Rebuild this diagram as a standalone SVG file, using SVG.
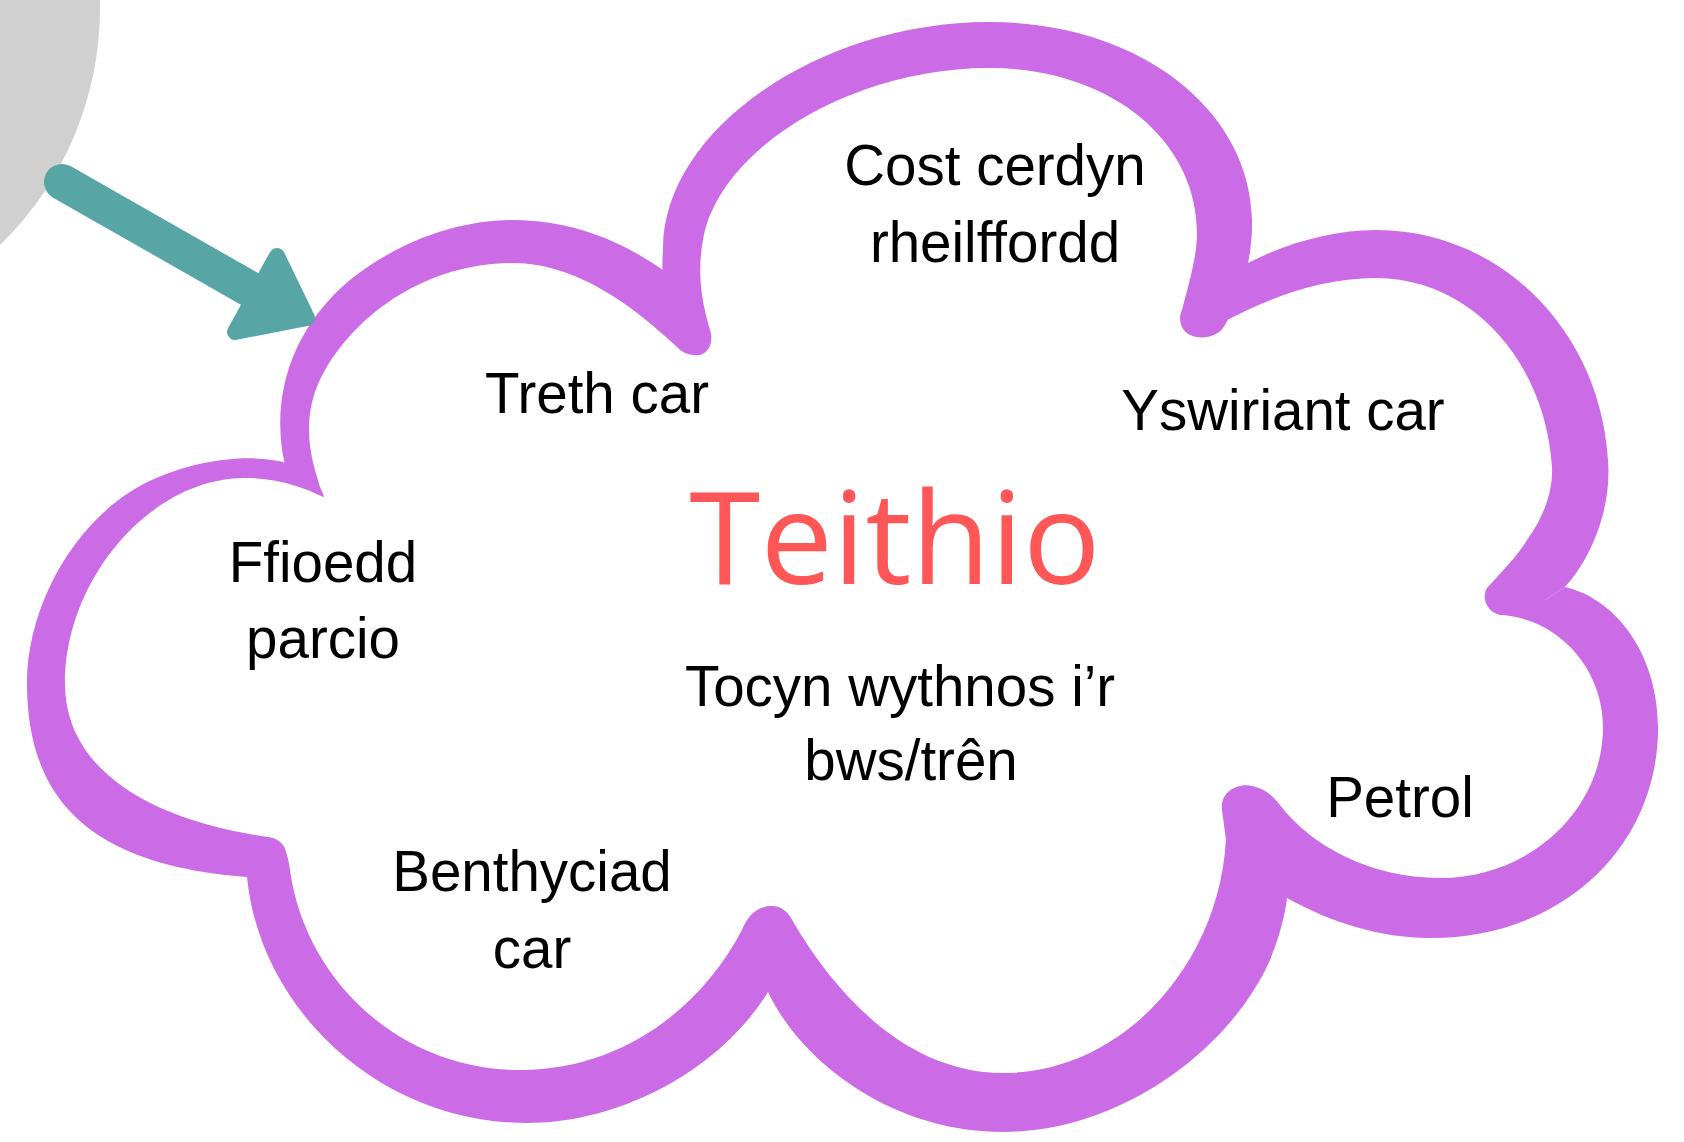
<svg xmlns="http://www.w3.org/2000/svg" width="1684" height="1142" viewBox="0 0 1684 1142">
  <style>
    .lobe { fill: #CB6CE6; }
    .lbl { font-family: "Liberation Sans", Arial, sans-serif; font-size: 56.5px; fill: #000000; text-anchor: middle; }
    .title { font-family: "Open Sans", "Noto Sans", sans-serif; font-size: 129px; fill: #FF5757; text-anchor: middle; }
  </style>
  <rect width="1684" height="1142" fill="#ffffff"/>
  <g id="source-circle">
    <circle cx="-231" cy="8" r="331" fill="#CFD0CF"/>
  </g>
  <g id="cloud">
    <path class="lobe" d="M 285,465 C 270,400 290,330 350,280 C 400,240 460,220 513,220 C 570,220 620,240 663,270 L 700,318 C 715,332 712,350 700,354 C 690,357 682,352 678,348 C 640,312 580,263 513,263 C 430,263 360,310 325,370 C 305,405 305,440 318,480 C 320,490 326,497 323,497 Z"/>
    <path class="lobe" d="M 678,345 C 668,320 660,290 663,250 C 662,130 820,22 989,22 C 1140,22 1250,110 1252,220 C 1253,260 1240,300 1225,325 C 1218,338 1200,340 1190,335 C 1180,330 1178,318 1182,310 C 1190,280 1197,255 1197,233 C 1197,140 1110,68 989,68 C 860,68 730,140 705,230 C 698,260 698,290 710,330 C 715,345 705,357 695,355 C 688,354 682,350 678,345 Z"/>
    <path class="lobe" d="M 1195,318 L 1241,267 C 1280,245 1330,230 1376,230 C 1500,230 1600,330 1608,460 C 1612,510 1590,560 1565,587 L 1545,600 L 1503,615 C 1490,615 1480,600 1487,588 C 1505,568 1518,555 1527,540 C 1545,515 1553,490 1552,467 C 1545,360 1470,278 1376,278 C 1320,278 1270,298 1227,320 L 1200,332 Z"/>
    <path class="lobe" d="M 1545,600 L 1565,587 C 1620,600 1660,660 1658,733 C 1655,850 1560,938 1430,938 C 1380,938 1330,922 1287,898 L 1230,870 L 1222,810 C 1220,790 1240,783 1252,786 C 1265,789 1272,795 1280,805 C 1310,845 1370,878 1440,878 C 1530,878 1603,810 1603,727 C 1603,670 1560,620 1503,615 L 1510,595 L 1540,585 Z"/>
    <path class="lobe" d="M 768,992 C 800,1060 890,1132 1003,1132 C 1120,1132 1230,1050 1270,960 C 1280,935 1285,915 1287,898 L 1275,820 L 1240,800 L 1226,815 C 1232,950 1130,1073 1003,1073 C 910,1073 840,1000 795,925 C 788,910 780,905 770,906 C 757,907 748,915 742,930 Z"/>
    <path class="lobe" d="M 247,877 C 260,1010 380,1123 527,1123 C 620,1123 720,1070 768,992 L 785,965 L 770,915 L 742,930 C 700,1010 620,1070 520,1070 C 400,1070 305,980 290,870 C 288,855 285,845 277,842 L 255,850 L 245,868 Z"/>
    <path class="lobe" d="M 323,497 L 300,470 L 292,440 L 282,450 L 287,463 C 250,452 180,460 130,492 C 70,530 27,610 27,683 C 27,800 90,865 247,877 L 290,880 L 285,848 C 280,840 275,838 268,837 C 150,820 65,770 65,683 C 65,580 150,478 245,478 C 280,478 305,488 323,497 Z"/>
  </g>
  <g id="connectors">
    <g id="arrow" fill="#57A5A5" stroke="#57A5A5">
      <line x1="62" y1="182" x2="255" y2="292" stroke-width="36" stroke-linecap="round"/>
      <polygon points="277,256 307,318 235,332" stroke-width="16" stroke-linejoin="round"/>
    </g>
  </g>
  <g id="node-teithio">
    <text class="title" x="895" y="584">Teithio</text>
  </g>
  <g id="node-cost-cerdyn">
    <text class="lbl" x="995" y="185">Cost cerdyn</text>
    <text class="lbl" x="995" y="262">rheilffordd</text>
  </g>
  <g id="node-treth-car">
    <text class="lbl" x="597" y="413">Treth car</text>
  </g>
  <g id="node-yswiriant-car">
    <text class="lbl" x="1283" y="430">Yswiriant car</text>
  </g>
  <g id="node-ffioedd-parcio">
    <text class="lbl" x="323" y="582">Ffioedd</text>
    <text class="lbl" x="323" y="658">parcio</text>
  </g>
  <g id="node-tocyn">
    <text class="lbl" x="900" y="706">Tocyn wythnos i’r</text>
    <text class="lbl" x="911" y="780">bws/trên</text>
  </g>
  <g id="node-benthyciad-car">
    <text class="lbl" x="532" y="891">Benthyciad</text>
    <text class="lbl" x="532" y="968">car</text>
  </g>
  <g id="node-petrol">
    <text class="lbl" x="1400" y="817">Petrol</text>
  </g>
</svg>
